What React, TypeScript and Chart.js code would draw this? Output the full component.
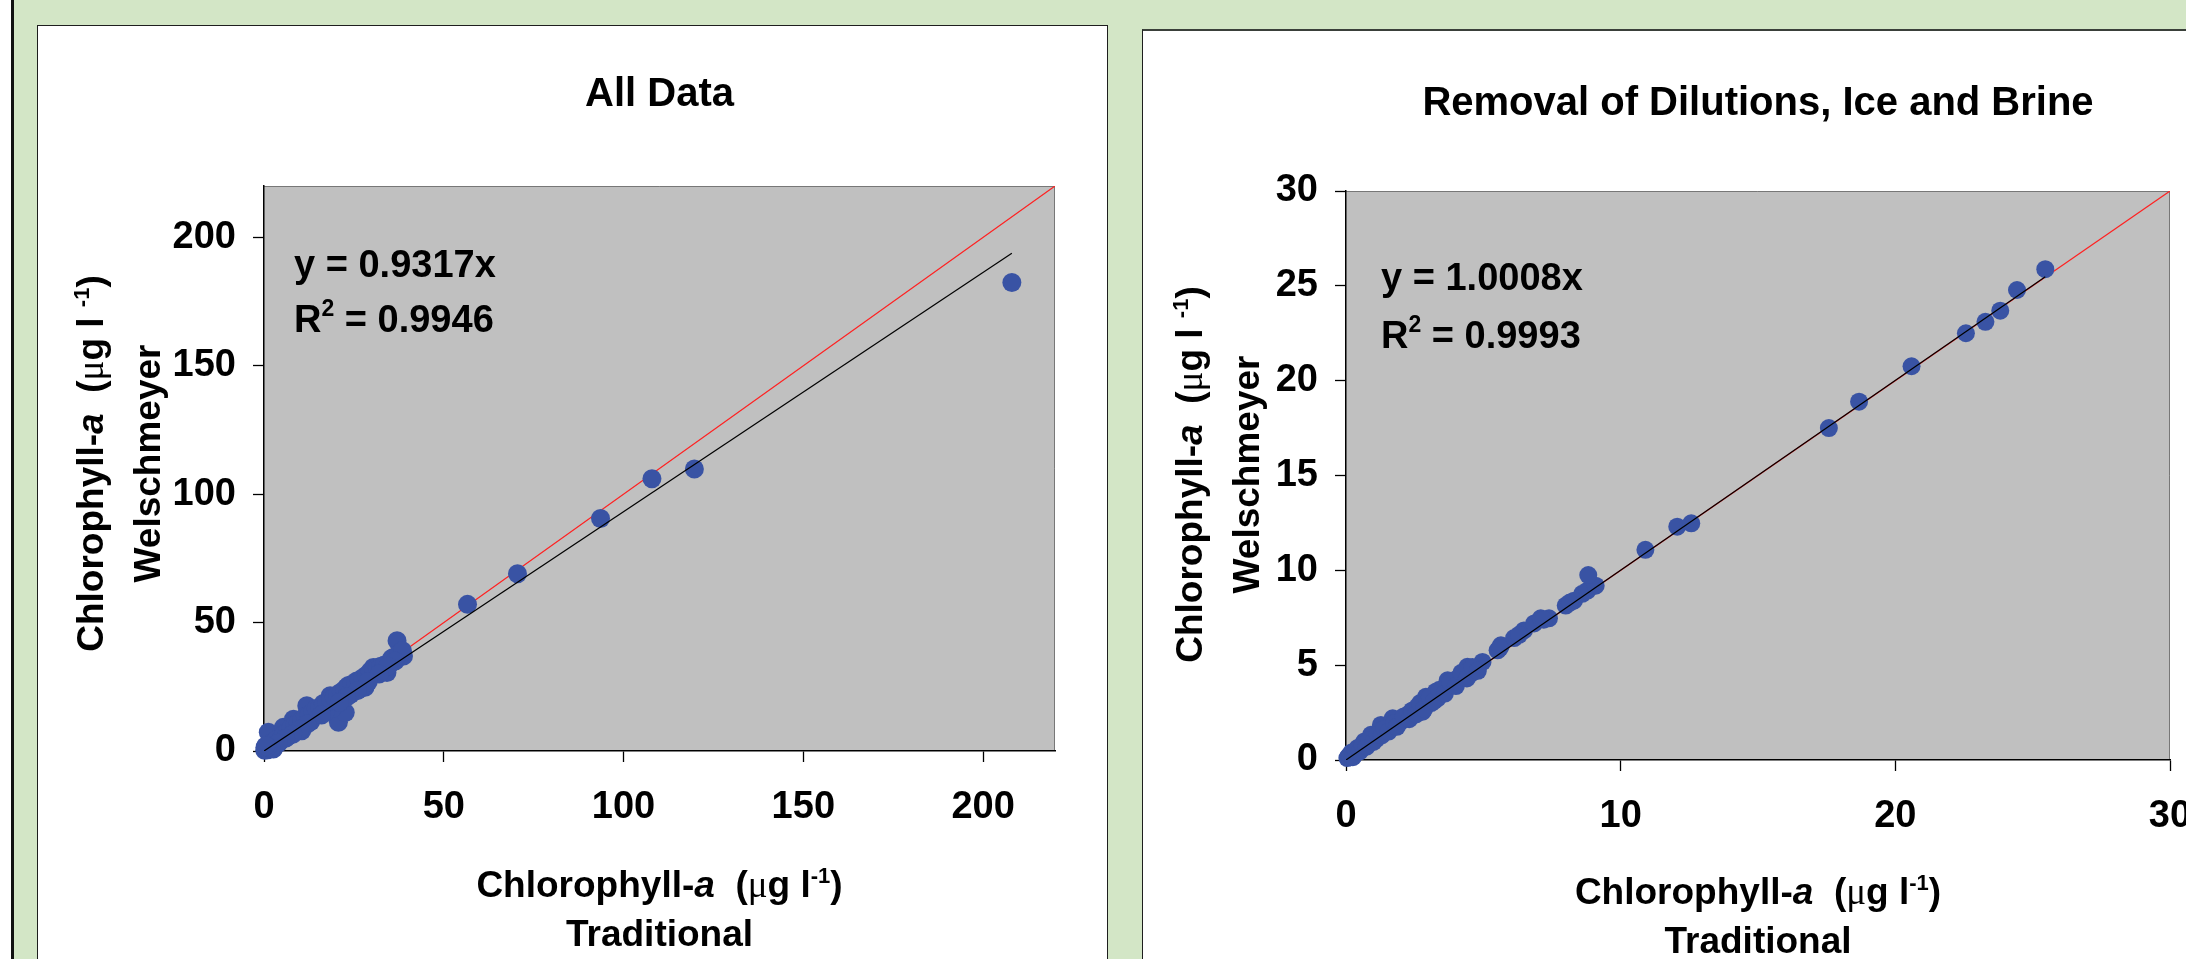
import React, { useEffect, useRef } from 'react';
import { Chart, registerables } from 'chart.js';

Chart.register(...registerables);

// ---------------- Data: "All Data" ----------------
const ALL_X = [
  0.2, 0.5, 1.0, 0.3, 1.2, 2.6, 2.0, 3.0, 4.0, 5.4, 5.0, 6.0, 7.0, 8.2, 8.0, 9.0,
  10.5, 10.0, 11.0, 11.9, 12.0, 13.0, 14.0, 14.7, 15.0, 16.0, 17.0, 18.4, 18.0,
  19.0, 20.0, 20.7, 21.0, 22.6, 22.0, 23.0, 24.0, 25.8, 25.0, 26.0, 27.0, 28.1,
  28.0, 29.0, 30.4, 30.0, 31.0, 32.0, 34.2, 33.0, 35.0, 36.0, 37.0, 38.8, 19.0,
  17.0, 13.0, 24.0, 27.0, 9.5, 6.5, 3.5,
  1.5, 2.5, 3.5, 4.5, 5.5, 6.5, 7.5, 8.5, 9.5, 10.5, 11.5, 12.5, 13.5, 14.5, 15.5,
  16.5, 17.5, 18.5, 19.5, 20.5, 21.5, 22.5, 23.5, 24.5, 25.5, 26.5, 27.5, 28.5,
  29.5, 30.5, 31.5, 32.5, 33.5, 35.5, 37.5, 38.5, 36.5, 34.5, 32.0, 29.0, 26.0,
  23.0, 21.0, 16.0, 12.0, 10.0, 8.0, 6.0, 4.0, 2.0, 1.0, 0.5,
  56.6, 70.5, 93.6, 107.9, 119.7, 208.0,
];
const ALL_Y = [
  0.3, 0.8, 0.5, 1.5, 7.3, 0.8, 2.5, 3.0, 4.5, 9.2, 5.0, 6.5, 7.0, 12.4, 8.0, 9.5,
  7.9, 10.0, 11.5, 17.6, 12.0, 13.0, 14.5, 15.7, 15.0, 16.0, 17.5, 21.5, 18.0,
  19.5, 20.0, 11.2, 21.0, 15.0, 22.0, 24.8, 24.0, 27.3, 25.0, 26.0, 27.0, 24.8,
  28.0, 29.0, 32.5, 30.0, 31.0, 32.0, 30.6, 32.0, 34.0, 36.4, 42.9, 37.0, 16.5,
  15.0, 11.5, 22.0, 24.5, 8.5, 5.5, 3.0,
  2.0, 3.5, 4.5, 4.0, 6.5, 7.5, 9.0, 10.0, 11.0, 12.0, 13.5, 14.0, 15.0, 16.5, 17.0,
  18.5, 19.0, 20.0, 21.0, 22.0, 23.0, 24.0, 25.5, 26.0, 26.5, 27.5, 28.5, 29.5,
  31.0, 31.5, 32.5, 33.0, 33.5, 36.0, 38.0, 39.0, 35.0, 33.0, 30.0, 27.0, 23.5,
  21.0, 19.0, 14.0, 10.5, 8.5, 6.5, 5.0, 3.0, 1.2, 1.5, 2.0,
  57.1, 69.0, 90.5, 106.0, 109.8, 182.4,
];
const ALL_SLOPE = 0.9317;
const ALL_R2 = '0.9946';
const ALL_AXIS_MAX = 220;
const ALL_X_TICKS = [0, 50, 100, 150, 200];
const ALL_Y_TICKS = [0, 50, 100, 150, 200];

// ---------------- Data: "Removal of Dilutions, Ice and Brine" ----------------
const SUB_X = [
  0.05, 0.2, 0.3, 0.42, 0.67, 0.91, 1.27, 1.45, 1.7, 2.0, 2.24, 2.48, 2.79, 2.91,
  3.27, 3.33, 3.7, 4.06, 4.3, 4.42, 4.97, 5.52, 5.64, 6.12, 6.48, 6.85, 7.09,
  7.39, 8.0, 8.3, 8.6, 8.79, 9.09, 8.82, 0.1, 0.55, 0.8, 1.1, 1.6, 1.9, 2.6, 3.1,
  3.5, 3.9, 4.6,
  0.15, 0.25, 0.35, 0.5, 0.6, 0.75, 0.85, 1.0, 1.15, 1.3, 1.4, 1.55, 1.75, 1.85,
  2.1, 2.3, 2.4, 2.55, 2.7, 2.85, 3.05, 3.2, 3.4, 3.6, 3.8, 4.0, 4.2, 4.4, 4.6,
  4.8, 5.6, 6.3, 7.2, 8.15,
  10.9, 12.06, 12.57, 17.58, 18.68, 20.59, 22.57, 23.28, 23.82, 24.43, 25.46,
];
const SUB_Y = [
  0.1, 0.4, 0.28, 0.63, 0.98, 1.33, 1.85, 1.5, 2.2, 2.03, 2.38, 2.64, 2.55, 3.33,
  3.6, 3.25, 4.2, 4.3, 4.47, 4.91, 5.17, 5.78, 6.05, 6.43, 6.83, 7.2, 7.47,
  7.47, 8.14, 8.4, 8.76, 8.93, 9.19, 9.75, 0.2, 0.6, 0.9, 1.1, 1.7, 1.9, 2.8, 3.0,
  3.6, 4.0, 4.6,
  0.25, 0.15, 0.5, 0.45, 0.8, 0.7, 1.05, 0.95, 1.35, 1.3, 1.65, 1.5, 1.95, 1.75,
  2.3, 2.15, 2.6, 2.4, 3.0, 2.7, 3.3, 3.1, 3.7, 3.5, 4.1, 3.9, 4.6, 4.3, 4.9,
  4.7, 5.9, 6.6, 7.4, 8.3,
  11.08, 12.3, 12.48, 17.5, 18.89, 20.76, 22.5, 23.1, 23.69, 24.78, 25.88,
];
const SUB_SLOPE = 1.0008;
const SUB_R2 = '0.9993';
const SUB_AXIS_MAX = 30;
const SUB_X_TICKS = [0, 10, 20, 30];
const SUB_Y_TICKS = [0, 5, 10, 15, 20, 25, 30];

// ---------------- Text helpers ----------------
type Run = { t: string; it?: boolean; serif?: boolean; sup?: boolean };

const SANS = '"Liberation Sans", Arial, Helvetica, sans-serif';
const SERIF = '"Liberation Serif", "Times New Roman", serif';

function runFont(r: Run, size: number) {
  const s = r.sup ? Math.round(size * 0.6) : size;
  const fam = r.serif ? SERIF : SANS;
  return `${r.it ? 'italic ' : ''}${r.serif ? 'normal' : 'bold'} ${s}px ${fam}`;
}

function drawRuns(ctx: CanvasRenderingContext2D, runs: Run[], x: number, cy: number, size: number, align: 'center' | 'left') {
  const widths = runs.map((r) => {
    ctx.font = runFont(r, size);
    return ctx.measureText(r.t).width;
  });
  const total = widths.reduce((a, b) => a + b, 0);
  let cx = align === 'center' ? x - total / 2 : x;
  const base = cy + size * 0.36;
  ctx.textAlign = 'left';
  ctx.textBaseline = 'alphabetic';
  ctx.fillStyle = '#000';
  runs.forEach((r, i) => {
    ctx.font = runFont(r, size);
    ctx.fillText(r.t, cx, r.sup ? base - size * 0.4 : base);
    cx += widths[i];
  });
}

const X_TITLE_1: Run[] = [
  { t: 'Chlorophyll-' }, { t: 'a', it: true }, { t: '  (' }, { t: 'μ', serif: true },
  { t: 'g l' }, { t: '-1', sup: true }, { t: ')' },
];
const X_TITLE_2: Run[] = [{ t: 'Traditional' }];
const Y_TITLE_1: Run[] = [
  { t: 'Chlorophyll-' }, { t: 'a', it: true }, { t: '  (' }, { t: 'μ', serif: true },
  { t: 'g l ' }, { t: '-1', sup: true }, { t: ')' },
];
const Y_TITLE_2: Run[] = [{ t: 'Welschmeyer' }];

type Cfg = {
  title: string;
  xs: number[];
  ys: number[];
  slope: number;
  r2: string;
  max: number;
  xTicks: number[];
  yTicks: number[];
  radius: number;
  left: number; top: number; w: number; h: number;
  L: number; T: number; R: number; B: number;
  titleDy: number;
  eqDx: number; eqDy1: number; eqDy2: number;
  xtDy1: number; xtDy2: number;
  ytDx1: number; ytDx2: number; ytDy: number;
};

function makeDecor(cfg: Cfg) {
  return {
    id: 'decor',
    beforeDraw(chart: any) {
      const { ctx, chartArea: a } = chart;
      ctx.save();
      ctx.fillStyle = '#c0c0c0';
      ctx.fillRect(a.left, a.top, a.right - a.left, a.bottom - a.top);
      ctx.strokeStyle = '#777';
      ctx.lineWidth = 1;
      ctx.beginPath();
      ctx.moveTo(a.left, a.top + 0.5);
      ctx.lineTo(a.right - 0.5, a.top + 0.5);
      ctx.lineTo(a.right - 0.5, a.bottom);
      ctx.stroke();
      ctx.restore();
    },
    afterDraw(chart: any) {
      const { ctx, chartArea: a } = chart;
      const cx = (a.left + a.right) / 2;
      const cy = (a.top + a.bottom) / 2;
      ctx.save();
      drawRuns(ctx, [{ t: cfg.title }], cx, a.top - cfg.titleDy, 40, 'center');
      drawRuns(ctx, [{ t: `y = ${cfg.slope.toFixed(4)}x` }], a.left + cfg.eqDx, a.top + cfg.eqDy1, 38, 'left');
      drawRuns(ctx, [{ t: 'R' }, { t: '2', sup: true }, { t: ` = ${cfg.r2}` }], a.left + cfg.eqDx, a.top + cfg.eqDy2, 38, 'left');
      drawRuns(ctx, X_TITLE_1, cx, a.bottom + cfg.xtDy1, 37, 'center');
      drawRuns(ctx, X_TITLE_2, cx, a.bottom + cfg.xtDy2, 37, 'center');
      ctx.save();
      ctx.translate(a.left - cfg.ytDx1, cy + cfg.ytDy);
      ctx.rotate(-Math.PI / 2);
      drawRuns(ctx, Y_TITLE_1, 0, 0, 37, 'center');
      ctx.restore();
      ctx.save();
      ctx.translate(a.left - cfg.ytDx2, cy + cfg.ytDy);
      ctx.rotate(-Math.PI / 2);
      drawRuns(ctx, Y_TITLE_2, 0, 0, 37, 'center');
      ctx.restore();
      ctx.restore();
    },
  };
}

function ScatterPanel({ cfg }: { cfg: Cfg }) {
  const ref = useRef<HTMLCanvasElement>(null);
  useEffect(() => {
    if (!ref.current) return;
    const points = cfg.xs.map((x, i) => ({ x, y: cfg.ys[i] }));
    const xMaxData = Math.max(...cfg.xs);
    const fitLine = [{ x: 0, y: 0 }, { x: xMaxData, y: cfg.slope * xMaxData }];
    const oneToOne = [{ x: 0, y: 0 }, { x: cfg.max, y: cfg.max }];
    const tickFont = { family: SANS, size: 38, weight: 'bold' as const };
    const chart = new Chart(ref.current, {
      type: 'scatter',
      data: {
        datasets: [
          {
            label: 'fit',
            data: fitLine,
            showLine: true,
            borderColor: '#000',
            borderWidth: 1.2,
            pointRadius: 0,
            order: 0,
          } as any,
          {
            label: 'samples',
            data: points,
            backgroundColor: '#3953a4',
            borderWidth: 0,
            pointRadius: cfg.radius,
            pointHoverRadius: cfg.radius,
            clip: false,
            order: 1,
          } as any,
          {
            label: '1:1',
            data: oneToOne,
            showLine: true,
            borderColor: '#ff2020',
            borderWidth: 1.2,
            pointRadius: 0,
            order: 2,
          } as any,
        ],
      },
      options: {
        animation: false,
        responsive: false,
        maintainAspectRatio: false,
        devicePixelRatio: 1,
        events: [],
        layout: { padding: { left: 0, top: cfg.T, right: cfg.w - cfg.R, bottom: 0 } },
        plugins: { legend: { display: false }, tooltip: { enabled: false }, title: { display: false } },
        scales: {
          x: {
            type: 'linear',
            min: 0,
            max: cfg.max,
            afterBuildTicks: (s: any) => { s.ticks = cfg.xTicks.map((v) => ({ value: v })); },
            afterFit: (s: any) => { s.height = cfg.h - cfg.B; },
            grid: { display: true, drawOnChartArea: false, drawTicks: true, tickLength: 11, tickColor: '#000', tickWidth: 1.3 },
            border: { display: true, color: '#000', width: 1.5 },
            ticks: { font: tickFont, color: '#000', padding: 23, maxRotation: 0, autoSkip: false },
          },
          y: {
            type: 'linear',
            min: 0,
            max: cfg.max,
            afterBuildTicks: (s: any) => { s.ticks = cfg.yTicks.map((v) => ({ value: v })); },
            afterFit: (s: any) => { s.width = cfg.L; },
            grid: { display: true, drawOnChartArea: false, drawTicks: true, tickLength: 11, tickColor: '#000', tickWidth: 1.3 },
            border: { display: true, color: '#000', width: 1.5 },
            ticks: { font: tickFont, color: '#000', padding: 17, autoSkip: false },
          },
        },
      },
      plugins: [makeDecor(cfg)],
    });
    return () => chart.destroy();
  }, [cfg]);
  return (
    <canvas
      ref={ref}
      width={cfg.w}
      height={cfg.h}
      style={{ position: 'absolute', left: cfg.left, top: cfg.top, width: cfg.w, height: cfg.h, display: 'block' }}
    />
  );
}

const LEFT_CFG: Cfg = {
  title: 'All Data',
  xs: ALL_X, ys: ALL_Y, slope: ALL_SLOPE, r2: ALL_R2, max: ALL_AXIS_MAX,
  xTicks: ALL_X_TICKS, yTicks: ALL_Y_TICKS, radius: 9.5,
  left: 39, top: 27, w: 1067, h: 932,
  L: 225, T: 159, R: 1016, B: 724,
  titleDy: 94,
  eqDx: 30, eqDy1: 77, eqDy2: 132,
  xtDy1: 133, xtDy2: 182,
  ytDx1: 174, ytDx2: 117, ytDy: -5,
};

const RIGHT_CFG: Cfg = {
  title: 'Removal of Dilutions, Ice and Brine',
  xs: SUB_X, ys: SUB_Y, slope: SUB_SLOPE, r2: SUB_R2, max: SUB_AXIS_MAX,
  xTicks: SUB_X_TICKS, yTicks: SUB_Y_TICKS, radius: 9,
  left: 1144, top: 31, w: 1100, h: 928,
  L: 202, T: 160, R: 1026, B: 729,
  titleDy: 90,
  eqDx: 35, eqDy1: 85, eqDy2: 143,
  xtDy1: 131, xtDy2: 180,
  ytDx1: 157, ytDx2: 100, ytDy: -1,
};

export default function App() {
  return (
    <div
      style={{
        position: 'fixed', left: 0, top: 0, width: 2186, height: 959,
        overflow: 'hidden', background: '#d3e6c6',
      }}
    >
      <div style={{ position: 'absolute', left: 0, top: 0, width: 11, height: 959, background: '#fff' }} />
      <div style={{ position: 'absolute', left: 11, top: 0, width: 3, height: 959, background: '#111' }} />
      <div
        style={{
          position: 'absolute', left: 37, top: 25, width: 1071, height: 960,
          background: '#fff', border: '1.5px solid #1e1e1e', boxSizing: 'border-box',
        }}
      />
      <div
        style={{
          position: 'absolute', left: 1142, top: 29, width: 1100, height: 960,
          background: '#fff', borderTop: '2px solid #3a403a', borderLeft: '1.5px solid #1e1e1e', boxSizing: 'border-box',
        }}
      />
      <ScatterPanel cfg={LEFT_CFG} />
      <ScatterPanel cfg={RIGHT_CFG} />
    </div>
  );
}
